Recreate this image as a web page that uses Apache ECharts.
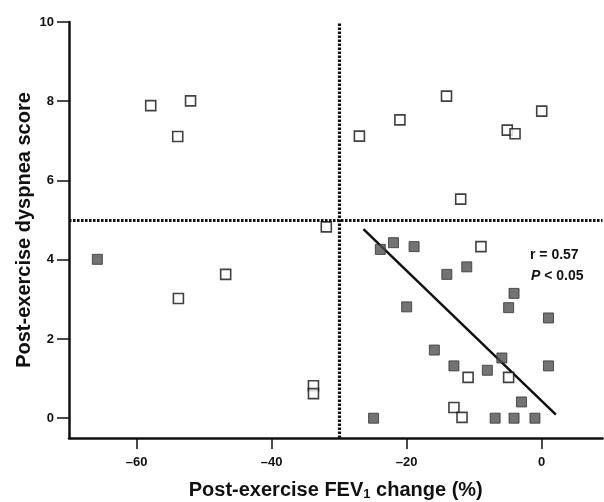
<!DOCTYPE html>
<html>
<head>
<meta charset="utf-8">
<script src="https://cdn.jsdelivr.net/npm/echarts@6/dist/echarts.min.js"></script>
<style>
html,body{margin:0;padding:0;background:#fff;}
#chart{width:604px;height:502px;}
</style>
</head>
<body>
<div id="chart"></div>
<script>
// Open squares: subjects outside the correlated group
const openPoints = [
  [-57.9, 7.89], [-52.0, 8.01], [-53.9, 7.11], [-27.0, 7.12], [-21.0, 7.53],
  [-14.1, 8.13], [-5.1, 7.27], [-3.95, 7.18], [0.0, 7.75], [-12.0, 5.53],
  [-31.9, 4.83], [-53.8, 3.02], [-46.8, 3.63], [-33.8, 0.82], [-33.8, 0.62],
  [-9.0, 4.33], [-10.9, 1.03], [-4.9, 1.03], [-13.0, 0.27], [-11.8, 0.02]
];
// Filled squares
const filledPoints = [
  [-65.8, 4.01], [-23.9, 4.26], [-21.95, 4.43], [-18.9, 4.33], [-11.1, 3.82],
  [-14.05, 3.63], [-4.1, 3.15], [-4.9, 2.79], [1.0, 2.53], [-20.0, 2.81],
  [-15.9, 1.72], [-13.0, 1.32], [-8.05, 1.21], [-5.9, 1.52], [1.0, 1.32],
  [-24.9, 0.0], [-3.0, 0.41], [-6.9, 0.0], [-4.1, 0.0], [-1.0, 0.0]
];
// Regression line endpoints
const fitLine = [[-26.4, 4.77], [2.1, 0.09]];
// Threshold reference lines
const fevCut = -30;
const dyspneaCut = 5;
// Ticks
const xTicks = [-60, -40, -20, 0];
const yTicks = [0, 2, 4, 6, 8, 10];
const statR = 'r = 0.57';
const statP = '{i|P} < 0.05';

const FONT = '"Liberation Sans", Arial, Helvetica, sans-serif';
const chart = echarts.init(document.getElementById('chart'), null, {renderer: 'canvas'});

chart.setOption({
  animation: false,
  backgroundColor: '#fff',
  grid: {left: 69, right: 1.5, top: 22, bottom: 64, containLabel: false, outerBoundsMode: 'none'},
  xAxis: {
    type: 'value', min: -70, max: 9,
    axisLine: {show: true, onZero: false, lineStyle: {color: '#111', width: 2.5}},
    axisTick: {show: true, customValues: xTicks, length: 11, lineStyle: {color: '#111', width: 1.5}},
    axisLabel: {
      customValues: xTicks, margin: 18, color: '#111', fontWeight: 'bold', fontSize: 13, fontFamily: FONT,
      formatter: v => String(v).replace('-', '\u2013')
    },
    splitLine: {show: false},
    name: 'Post-exercise FEV{sub|1} change (%)',
    nameLocation: 'middle', nameGap: 42, nameMoveOverlap: false,
    nameTextStyle: {
      color: '#111', fontWeight: 'bold', fontSize: 20, fontFamily: FONT,
      rich: {sub: {fontSize: 13, fontWeight: 'bold', verticalAlign: 'bottom', padding: [8, 0, 0, 0], fontFamily: FONT, color: '#111'}}
    }
  },
  yAxis: {
    type: 'value', min: -0.5, max: 10,
    axisLine: {show: true, onZero: false, lineStyle: {color: '#111', width: 2.5}},
    axisTick: {show: true, customValues: yTicks, length: 12, lineStyle: {color: '#111', width: 1.5}},
    axisLabel: {customValues: yTicks, margin: 15, color: '#111', fontWeight: 'bold', fontSize: 13, fontFamily: FONT},
    splitLine: {show: false},
    name: 'Post-exercise dyspnea score',
    nameLocation: 'middle', nameGap: 35, nameMoveOverlap: false,
    nameTextStyle: {color: '#111', fontWeight: 'bold', fontSize: 20, fontFamily: FONT}
  },
  series: [
    {
      type: 'line', data: fitLine, symbol: 'none', silent: true,
      lineStyle: {color: '#111', width: 2.5}, z: 2,
      markLine: {
        silent: true, symbol: 'none', label: {show: false},
        lineStyle: {color: '#111', width: 3.2, type: [2.5, 1.5]},
        data: [{xAxis: fevCut}, {yAxis: dyspneaCut}]
      }
    },
    {
      type: 'scatter', data: filledPoints, symbol: 'rect', symbolSize: 10,
      itemStyle: {color: '#505050', borderColor: '#333', borderWidth: 1}, z: 3
    },
    {
      type: 'scatter', data: openPoints, symbol: 'rect', symbolSize: 10,
      itemStyle: {color: '#fff', borderColor: '#111', borderWidth: 1.6}, z: 4
    }
  ],
  graphic: [
    {type: 'text', left: 530, top: 248, style: {text: statR, font: 'bold 14px ' + FONT, fill: '#111'}},
    {type: 'text', left: 531, top: 269, style: {
      text: statP, font: 'bold 14px ' + FONT, fill: '#111',
      rich: {i: {fontStyle: 'italic', fontWeight: 'bold', fontSize: 14, fontFamily: FONT, fill: '#111'}}
    }}
  ]
});
</script>
</body>
</html>
